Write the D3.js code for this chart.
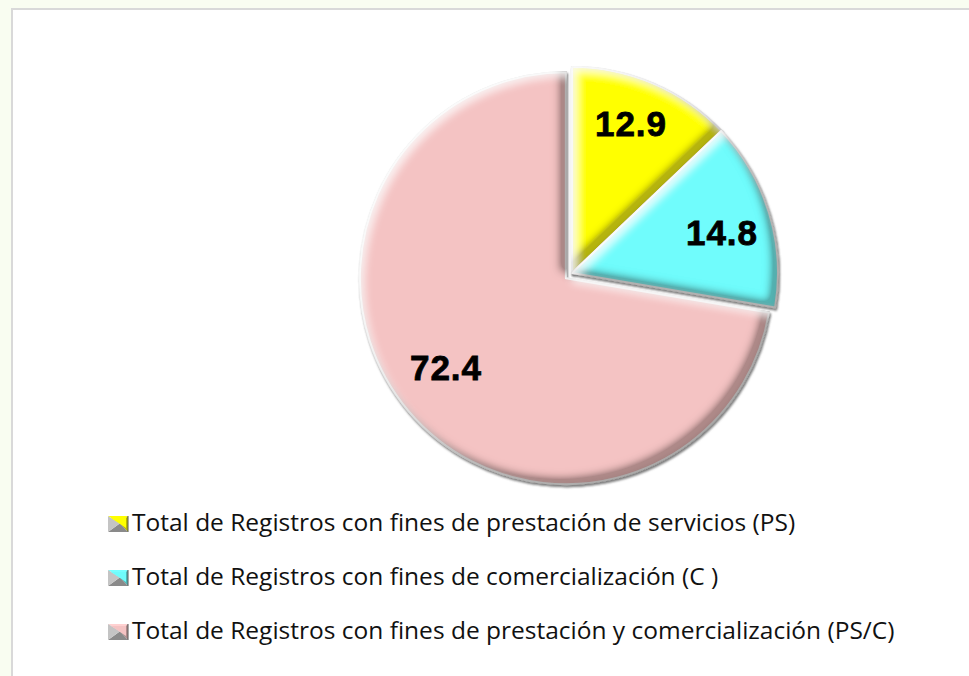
<!DOCTYPE html>
<html>
<head>
<meta charset="utf-8">
<script src="https://cdn.jsdelivr.net/npm/d3@7"></script>
<style>
  html, body { margin: 0; padding: 0; background: #f9fdf1; }
  svg { display: block; }
</style>
</head>
<body>
<div id="chart"></div>
<script>
// data
const categories = [
    "Total de Registros con fines de prestación de servicios (PS)",
    "Total de Registros con fines de comercialización (C )",
    "Total de Registros con fines de prestación y comercialización (PS/C)"
];
const values = [12.9, 14.8, 72.4];
const colors = ["#ffff00", "#6ffcfc", "#f4c3c3"];
const explode = [0, 0, 8];

const width = 969, height = 676;
const cx = 572, cy = 273, radius = 206;

const svg = d3.select("#chart")
    .append("svg")
    .attr("width", width)
    .attr("height", height);

const defs = svg.append("defs");

// bevel look: dark inner edge toward bottom-right, light toward top-left
const bevel = defs.append("filter").attr("id", "bevel")
    .attr("x", "-10%").attr("y", "-10%").attr("width", "120%").attr("height", "120%");
bevel.append("feComponentTransfer").attr("in", "SourceAlpha").attr("result", "inv")
    .append("feFuncA").attr("type", "table").attr("tableValues", "1 0");
bevel.append("feGaussianBlur").attr("in", "inv").attr("stdDeviation", 4).attr("result", "invBlur");
bevel.append("feOffset").attr("in", "invBlur").attr("dx", -7).attr("dy", -7).attr("result", "darkOff");
bevel.append("feComposite").attr("in", "darkOff").attr("in2", "SourceAlpha").attr("operator", "in").attr("result", "darkMask");
bevel.append("feComponentTransfer").attr("in", "darkMask").attr("result", "darkMask2")
    .append("feFuncA").attr("type", "linear").attr("slope", 1.6).attr("intercept", 0);
bevel.append("feFlood").attr("flood-color", "#301c10").attr("flood-opacity", 0.55);
bevel.append("feComposite").attr("in2", "darkMask2").attr("operator", "in").attr("result", "dark");
bevel.append("feGaussianBlur").attr("in", "inv").attr("stdDeviation", 3).attr("result", "edgeBlur");
bevel.append("feComposite").attr("in", "edgeBlur").attr("in2", "SourceAlpha").attr("operator", "in").attr("result", "edgeMask");
bevel.append("feFlood").attr("flood-color", "#000").attr("flood-opacity", 0.45);
bevel.append("feComposite").attr("in2", "edgeMask").attr("operator", "in").attr("result", "edge");
bevel.append("feOffset").attr("in", "invBlur").attr("dx", 5).attr("dy", 5).attr("result", "lightOff");
bevel.append("feComposite").attr("in", "lightOff").attr("in2", "SourceAlpha").attr("operator", "in").attr("result", "lightMask");
bevel.append("feFlood").attr("flood-color", "#fff").attr("flood-opacity", 0.8);
bevel.append("feComposite").attr("in2", "lightMask").attr("operator", "in").attr("result", "light");
const bm = bevel.append("feMerge");
bm.append("feMergeNode").attr("in", "SourceGraphic");
bm.append("feMergeNode").attr("in", "edge");
bm.append("feMergeNode").attr("in", "dark");
bm.append("feMergeNode").attr("in", "light");

// gray rim / soft shadow round the pie
const rim = defs.append("filter").attr("id", "rim")
    .attr("x", "-10%").attr("y", "-10%").attr("width", "120%").attr("height", "120%");
rim.append("feDropShadow").attr("dx", 1).attr("dy", 2).attr("stdDeviation", 1.2)
    .attr("flood-color", "#666").attr("flood-opacity", 0.85);

// panel
svg.append("rect")
    .attr("x", 12).attr("y", 9)
    .attr("width", width).attr("height", height)
    .attr("fill", "#fff")
    .attr("stroke", "#d9d9d9")
    .attr("stroke-width", 2);

const pie = d3.pie().sort(null).value(d => d);
const arcs = pie(values);

const arc = d3.arc().innerRadius(0).outerRadius(radius);

const g = svg.append("g")
    .attr("transform", "translate(" + cx + "," + cy + ")");

const slice = g.selectAll("g.slice")
    .data(arcs)
    .enter().append("g")
    .attr("class", "slice")
    .attr("filter", "url(#rim)")
    .attr("transform", function(d, i) {
        const a = (d.startAngle + d.endAngle) / 2;
        return "translate(" + (Math.sin(a) * explode[i]) + "," + (-Math.cos(a) * explode[i]) + ")";
    });

slice.append("path")
    .attr("d", arc)
    .attr("fill", (d, i) => colors[i])
    .attr("stroke", "#fff")
    .attr("stroke-width", 2)
    .attr("stroke-linejoin", "round")
    .attr("filter", "url(#bevel)");

// value labels
const labelPos = [[59, -137], [150, -28], [-126, 107]];

g.selectAll("text.value")
    .data(arcs)
    .enter().append("text")
    .attr("class", "value")
    .attr("x", (d, i) => labelPos[i][0])
    .attr("y", (d, i) => labelPos[i][1])
    .attr("text-anchor", "middle")
    .style("font-family", "'Liberation Sans', Arial, sans-serif")
    .style("font-weight", "bold")
    .style("font-size", "35px")
    .style("letter-spacing", "1px")
    .style("stroke", "#000")
    .style("stroke-width", "0.8px")
    .attr("fill", "#000")
    .text(d => d.data.toFixed(1));

// legend
const legendY = d3.scalePoint().domain(d3.range(categories.length)).range([522, 630]);
const legend = svg.selectAll("g.legend")
    .data(categories)
    .enter().append("g")
    .attr("class", "legend")
    .attr("transform", (d, i) => "translate(108," + legendY(i) + ")");

const sw = 20, sh = 16;
legend.each(function(d, i) {
    const lg = d3.select(this);
    const c = d3.color(colors[i]);
    const x0 = 0, y0 = -6;
    const pts = {
        tl: [x0, y0], tr: [x0 + sw, y0], br: [x0 + sw, y0 + sh], bl: [x0, y0 + sh],
        c: [x0 + sw * 0.6, y0 + sh * 0.45]
    };
    const tri = (a, b) => "M" + pts[a] + "L" + pts[b] + "L" + pts.c + "Z";
    lg.append("path").attr("d", tri("tl", "tr")).attr("fill", c.brighter(0.2));
    lg.append("path").attr("d", tri("tr", "br")).attr("fill", c.darker(0.9));
    lg.append("path").attr("d", tri("br", "bl")).attr("fill", d3.color("#8a8a8a"));
    lg.append("path").attr("d", tri("bl", "tl")).attr("fill", d3.color("#c4c4c4"));
    lg.append("path").attr("d", "M" + [x0 + 3, y0 + 2] + "L" + [x0 + sw - 2, y0 + 2] + "L" + [x0 + sw - 2, y0 + sh - 4] + "Z")
        .attr("fill", colors[i]);
    lg.append("line").attr("x1", x0 + sw).attr("x2", x0 + sw).attr("y1", y0).attr("y2", y0 + sh)
        .attr("stroke", "#555").attr("stroke-width", 1);
});

legend.append("text")
    .attr("x", 24)
    .attr("y", 9)
    .style("font-family", "'Open Sans', 'Noto Sans', sans-serif")
    .style("font-size", "24.5px")
    .attr("fill", "#111")
    .text(d => d);
</script>
</body>
</html>
